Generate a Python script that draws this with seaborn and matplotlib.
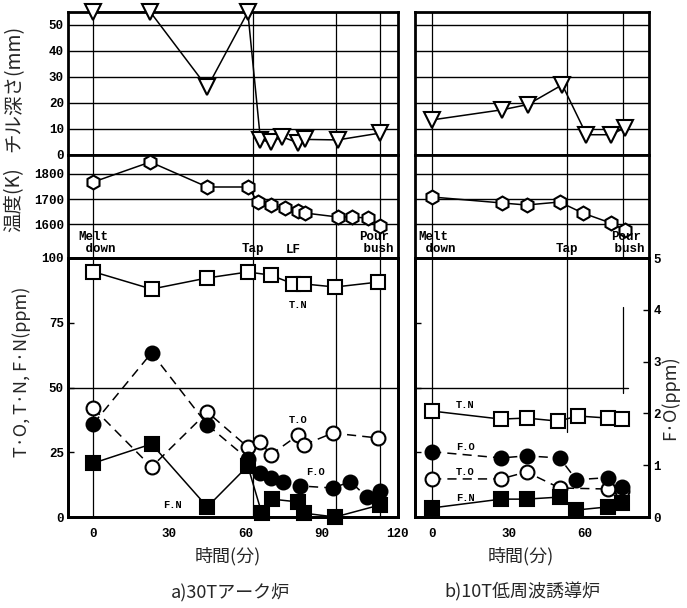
import matplotlib
matplotlib.use("Agg")
import matplotlib.pyplot as plt
import seaborn as sns

sns.set_theme(style="white")
plt.rcParams['font.family'] = ['Noto Sans CJK JP', 'DejaVu Sans']

# ---------------- a) 30T arc furnace ----------------
chill_a_t = [0, 22.5, 45, 61, 66, 70, 74.5, 81, 83.5, 96.5, 113]
chill_a = [55, 55, 26, 55, 5.8, 5, 7, 4.6, 6, 5.8, 8.4]

temp_a_t = [0, 22.5, 45, 61, 65, 70, 75.5, 81, 83.5, 96.5, 102, 108.5, 113]
temp_a = [1768, 1848, 1748, 1748, 1688, 1676, 1664, 1652, 1644, 1628, 1628, 1624, 1592]

tn_a_t = [0, 23, 45, 61, 70, 79, 83, 95.5, 112.5]
tn_a = [94.7, 88, 92.3, 94.6, 93.4, 90, 90, 88.8, 90.7]

to_a_t = [0, 23, 45, 61, 66, 70, 81, 83, 94.5, 112.5]
to_a = [42, 19.3, 40.5, 27, 29, 24, 31.7, 27.8, 32.4, 30.5]

fo_a_t = [0, 23, 45, 61, 66, 70, 75, 81.5, 94.5, 101.5, 108, 113]
fo_a = [1.8, 3.17, 1.78, 1.12, 0.85, 0.75, 0.68, 0.6, 0.56, 0.68, 0.39, 0.5]

fn_a_t = [0, 23, 45, 61, 66.5, 70.5, 81, 83, 95.5, 113]
fn_a = [20.8, 28.2, 3.9, 19.7, 1.5, 6.9, 5.8, 1.5, 0, 4.6]

events_a = [0, 63, 96, 113]

# ---------------- b) 10T low-frequency induction furnace ----------------
chill_b_t = [0, 27.5, 37.5, 51, 60.5, 70, 75.5]
chill_b = [13.5, 17.4, 19.4, 27, 7.8, 7.8, 10.4]

temp_b_t = [0, 27.5, 37, 50, 59, 70, 75.5]
temp_b = [1708, 1684, 1676, 1688, 1644, 1604, 1576]

tn_b_t = [0, 27, 37, 49.5, 57, 69, 74.5]
tn_b = [40.9, 37.8, 38.2, 37, 39, 38.2, 37.8]

fo_b_t = [0, 27, 37, 50, 56.5, 69, 74.5]
fo_b = [1.26, 1.14, 1.18, 1.14, 0.72, 0.76, 0.58]

to_b_t = [0, 27, 37, 50, 69, 74.5]
to_b = [14.7, 14.7, 17.4, 11.2, 10.8, 10]

fn_b_t = [0, 27, 37, 50, 56.5, 69, 74.5]
fn_b = [3.5, 6.9, 6.9, 7.7, 2.7, 3.9, 5.4]

events_b = [0, 53, 75]

time_ticks_a = [0, 30, 60, 90, 120]
time_ticks_b = [0, 30, 60]
chill_ticks = [0, 10, 20, 30, 40, 50]
temp_ticks = [1600, 1700, 1800]
ppm_ticks = [0, 25, 50, 75, 100]
fo_ticks = [0, 1, 2, 3, 4, 5]

W, H = 687, 608
fig = plt.figure(figsize=(W / 100, H / 100), dpi=100)
fig.patch.set_facecolor('white')

MONO = dict(family=['Liberation Mono', 'DejaVu Sans Mono'], weight='bold')
CJK = ['Noto Sans CJK JP', 'DejaVu Sans']


def rect(x0, x1, y0, y1):
    return [x0 / W, 1 - y1 / H, (x1 - x0) / W, (y1 - y0) / H]


def style_ax(ax):
    for s in ax.spines.values():
        s.set_linewidth(2.0)
        s.set_color('black')
    ax.set_facecolor('white')
    ax.tick_params(direction='in', length=4, width=1, colors='black', pad=3)
    ax.set_xlabel('')
    ax.set_ylabel('')


def series(ax, t, v, marker, ms, filled, ls='-'):
    sns.lineplot(x=t, y=v, ax=ax, estimator=None, sort=False, color='black',
                 lw=1.1, linestyle=ls, marker=marker, markersize=ms,
                 markerfacecolor='black' if filled else 'white',
                 markeredgecolor='black', markeredgewidth=1.5,
                 clip_on=False, zorder=4)


cols = {'a': (68, 398, (-10, 120.3)), 'b': (415, 649, (-6.7, 85))}
rows = {'chill': (12, 155), 'temp': (155, 258), 'gas': (258, 517)}

axes = {}
for c, (x0, x1, xl) in cols.items():
    for r, (y0, y1) in rows.items():
        ax = fig.add_axes(rect(x0, x1, y0, y1))
        ax.set_xlim(*xl)
        axes[(c, r)] = ax

# chill depth
for c, t, v in [('a', chill_a_t, chill_a), ('b', chill_b_t, chill_b)]:
    ax = axes[(c, 'chill')]
    ax.set_ylim(0, 55)
    for g in chill_ticks[1:]:
        ax.axhline(g, color='black', lw=1.0, zorder=1)
    series(ax, t, v, 'v', 11, False)
    style_ax(ax)
    ax.set_yticks(chill_ticks)

# temperature
for c, t, v in [('a', temp_a_t, temp_a), ('b', temp_b_t, temp_b)]:
    ax = axes[(c, 'temp')]
    ax.set_ylim(1464, 1876)
    for g in temp_ticks:
        ax.axhline(g, color='black', lw=1.0, zorder=1)
    series(ax, t, v, 'h', 10, False)
    style_ax(ax)
    ax.set_yticks(temp_ticks)

# gas contents (ppm) + free oxygen on secondary axis
for c, data in [('a', (tn_a_t, tn_a, to_a_t, to_a, fo_a_t, fo_a, fn_a_t, fn_a)),
                ('b', (tn_b_t, tn_b, to_b_t, to_b, fo_b_t, fo_b, fn_b_t, fn_b))]:
    ax = axes[(c, 'gas')]
    ax.set_ylim(0, 100)
    tnt, tnv, tot, tov, fot, fov, fnt, fnv = data
    if c == 'a':
        ax.axhline(50, color='black', lw=1.0, zorder=1)
    else:
        ax.axhline(50, xmax=0.91, color='black', lw=1.0, zorder=1)
    series(ax, tnt, tnv, 's', 9.5, False)
    series(ax, tot, tov, 'o', 10, False, ls=(0, (6, 4)))
    series(ax, fnt, fnv, 's', 9.5, True)
    ax2 = ax.twinx()
    ax2.set_ylim(0, 5)
    series(ax2, fot, fov, 'o', 10, True, ls=(0, (6, 4)))
    style_ax(ax)
    style_ax(ax2)
    ax.set_yticks(ppm_ticks)
    ax2.set_yticks(fo_ticks)
    if c == 'a':
        ax2.tick_params(right=False, labelright=False)
    else:
        ax2.set_yticklabels([str(v) for v in fo_ticks], **MONO, fontsize=9)
        ax2.tick_params(right=True, labelright=True)
    axes[(c, 'fo')] = ax2

# event lines
for r in ['chill', 'temp', 'gas']:
    for e in events_a:
        axes[('a', r)].axvline(e, color='black', lw=0.9, zorder=2)
for r in ['chill', 'temp']:
    for e in events_b:
        axes[('b', r)].axvline(e, color='black', lw=0.9, zorder=2)
axes[('b', 'gas')].axvline(events_b[0], color='black', lw=0.9, zorder=2)
axes[('b', 'gas')].axvline(events_b[1], ymin=0.33, color='black', lw=0.9, zorder=2)
axes[('b', 'gas')].axvline(events_b[2], ymin=0.48, ymax=0.81, color='black', lw=0.9, zorder=2)

# tick labels
for c in ['a', 'b']:
    for r in ['chill', 'temp']:
        axes[(c, r)].tick_params(labelbottom=False)
    ticks = time_ticks_a if c == 'a' else time_ticks_b
    axg = axes[(c, 'gas')]
    axg.set_xticks(ticks)
    axg.set_xticklabels([str(v) for v in ticks], **MONO, fontsize=9)
    axg.tick_params(axis='x', pad=8)

for r, ticks in [('chill', chill_ticks), ('temp', temp_ticks), ('gas', ppm_ticks)]:
    axes[('a', r)].set_yticklabels([str(v) for v in ticks], **MONO, fontsize=9)
    axes[('b', r)].tick_params(labelleft=False)

# event names
MK = dict(fontsize=9, **MONO, color='black', zorder=5)
ta = axes[('a', 'temp')]
ta.text(-6, 1524, 'Melt\n down', ha='left', va='center', linespacing=0.95, **MK)
ta.text(63, 1500, 'Tap', ha='center', va='center', **MK)
ta.text(79, 1496, 'LF', ha='center', va='center', **MK)
ta.text(111, 1524, 'Pour\n bush', ha='center', va='center', linespacing=0.95, **MK)
tb = axes[('b', 'temp')]
tb.text(-5.5, 1524, 'Melt\n down', ha='left', va='center', linespacing=0.95, **MK)
tb.text(53, 1500, 'Tap', ha='center', va='center', **MK)
tb.text(76, 1524, 'Pour\n bush', ha='center', va='center', linespacing=0.95, **MK)

# series names
SK = dict(fontsize=7.5, **MONO, color='black', zorder=5, ha='center', va='center')
ga = axes[('a', 'gas')]
ga.text(81, 81.9, 'T.N', **SK)
ga.text(81, 37.5, 'T.O', **SK)
ga.text(87.6, 17.4, 'F.O', **SK)
ga.text(31.2, 4.6, 'F.N', **SK)
gb = axes[('b', 'gas')]
gb.text(13, 43.2, 'T.N', **SK)
gb.text(13, 27, 'F.O', **SK)
gb.text(13, 17.4, 'T.O', **SK)
gb.text(13, 7.3, 'F.N', **SK)

# axis titles
fig.text(14 / W, 1 - 88 / H, 'チル深さ(mm)', rotation=90, ha='center', va='center',
         fontsize=14, family=CJK)
fig.text(14 / W, 1 - 200 / H, '温度(K)', rotation=90, ha='center', va='center',
         fontsize=14, family=CJK)
fig.text(22 / W, 1 - 372 / H, 'T·O, T·N, F·N(ppm)', rotation=90, ha='center', va='center',
         fontsize=13, family=CJK)
fig.text(670 / W, 1 - 398 / H, 'F·O(ppm)', rotation=90, ha='center', va='center',
         fontsize=13, family=CJK)

fig.text(228 / W, 1 - 556 / H, '時間(分)', ha='center', va='center', fontsize=13, family=CJK)
fig.text(521 / W, 1 - 556 / H, '時間(分)', ha='center', va='center', fontsize=13, family=CJK)
fig.text(230 / W, 1 - 592 / H, 'a)30Tアーク炉', ha='center', va='center', fontsize=13, family=CJK)
fig.text(522 / W, 1 - 592 / H, 'b)10T低周波誘導炉', ha='center', va='center', fontsize=13, family=CJK)

fig.savefig('out.png', dpi=100, facecolor='white')
